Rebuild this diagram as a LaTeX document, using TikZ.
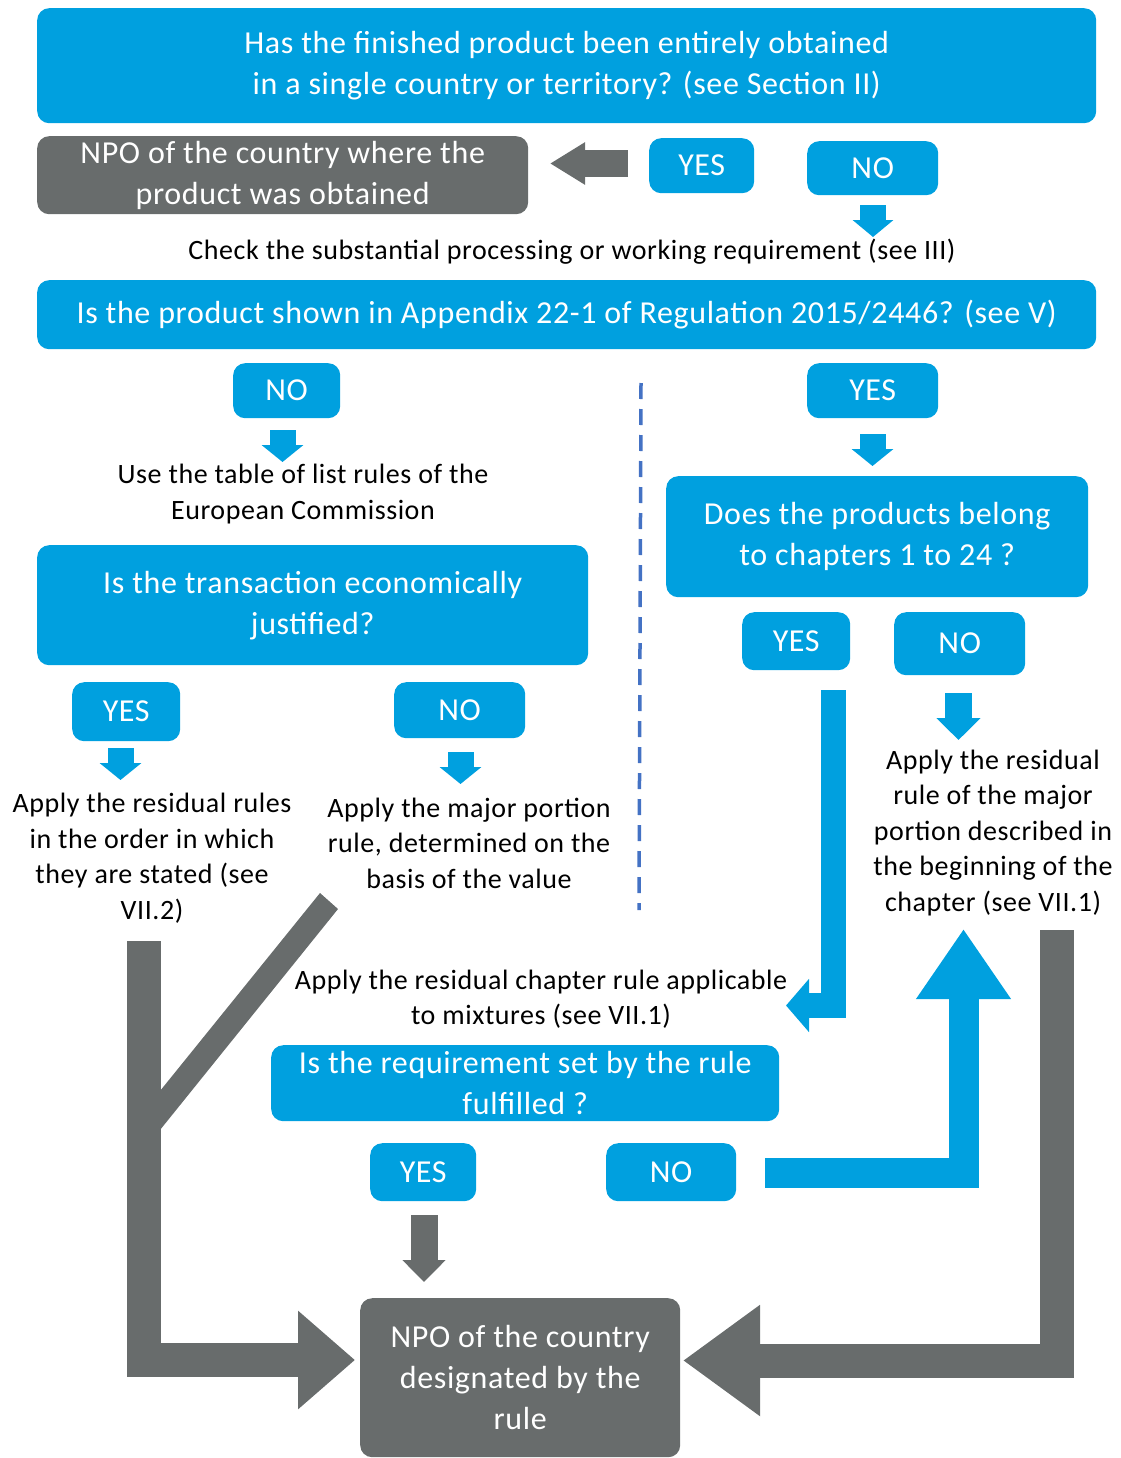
\documentclass[tikz,border=0pt]{standalone}
\usepackage{fontspec}
\setmainfont{Carlito}[LetterSpace=2.0]
\usetikzlibrary{arrows.meta}
\definecolor{cblue}{RGB}{0,160,223}
\definecolor{cgray}{RGB}{104,108,108}
\definecolor{cdash}{RGB}{68,114,196}
\tikzset{
  bx/.style={fill=cblue, rounded corners=12pt, text=white, align=center, inner sep=0pt, anchor=north west, font=\fontsize{32}{41}\selectfont},
  gbx/.style={bx, fill=cgray},
  txt/.style={align=center, inner sep=0pt, text=black, font=\fontsize{28}{35.5}\selectfont},
  barrow/.style={draw=cblue, line join=miter},
  garrow/.style={draw=cgray, line join=miter},
}
\begin{document}
\begin{tikzpicture}[x=1pt,y=-1pt]
\useasboundingbox (0,0) rectangle (1120,1458);
% boxes
\node[bx, minimum width=1059pt, minimum height=115pt] (q1) at (37,8) {Has the finished product been entirely obtained\\in a single country or territory? (see Section II)};
\node[gbx, minimum width=491pt, minimum height=78pt] (npo1) at (37,136) {NPO of the country where the\\product was obtained};
\node[bx, minimum width=105pt, minimum height=55pt] (yes1) at (649,138) {YES};
\node[bx, minimum width=131pt, minimum height=54pt] (no1) at (807,141) {NO};
\node[txt] (chk) at (572,252) {Check the substantial processing or working requirement (see III)};
\node[bx, minimum width=1059pt, minimum height=69pt] (q2) at (37,280) {Is the product shown in Appendix 22-1 of Regulation 2015/2446? (see V)};
\node[bx, minimum width=107pt, minimum height=55pt] (no2) at (233,363) {NO};
\node[bx, minimum width=131pt, minimum height=55pt] (yes2) at (807,363) {YES};
\node[txt] (t1) at (303,494) {Use the table of list rules of the\\European Commission};
\node[bx, minimum width=551pt, minimum height=120pt] (q3) at (37,545) {Is the transaction economically\\justified?};
\node[bx, minimum width=422pt, minimum height=121pt] (q4) at (666,476) {Does the products belong\\to chapters 1 to 24 ?};
\node[bx, minimum width=108pt, minimum height=59pt] (yes3) at (72,682) {YES};
\node[bx, minimum width=131pt, minimum height=56pt] (no3) at (394,682) {NO};
\node[bx, minimum width=108pt, minimum height=58pt] (yes4) at (742,612) {YES};
\node[bx, minimum width=131pt, minimum height=63pt] (no4) at (894,612) {NO};
\node[txt] (t2) at (152,858) {Apply the residual rules\\in the order in which\\they are stated (see\\VII.2)};
\node[txt] (t3) at (469,843) {Apply the major portion\\rule, determined on the\\basis of the value};
\node[txt] (t4) at (993,833) {Apply the residual\\rule of the major\\portion described in\\the beginning of the\\chapter (see VII.1)};
\node[txt] (t5) at (541,999) {Apply the residual chapter rule applicable\\to mixtures (see VII.1)};
\node[bx, minimum width=508pt, minimum height=76pt] (q5) at (271,1045) {Is the requirement set by the rule\\fulfilled ?};
\node[bx, minimum width=106pt, minimum height=58pt] (yes5) at (370,1143) {YES};
\node[bx, minimum width=130pt, minimum height=58pt] (no5) at (606,1143) {NO};
\node[gbx, minimum width=320pt, minimum height=159pt] (npo2) at (360,1298) {NPO of the country\\designated by the\\rule};
% dashed divider
\coordinate (d1) at (641,383);
\coordinate (d2) at (639,910);
\draw[cdash, line width=3.5pt, dash pattern=on 16pt off 10pt] (d1) -- (d2);
% small arrows
\coordinate (a1s) at (628,163.5); \coordinate (a1e) at (550,163.5);
\draw[garrow, line width=27pt, -{Triangle[length=35pt,width=40pt]}] (a1s) -- (a1e);
\coordinate (a2s) at (873,205); \coordinate (a2e) at (873,237);
\draw[barrow, line width=26pt, -{Triangle[length=17pt,width=40pt]}] (a2s) -- (a2e);
\coordinate (a3s) at (282.5,430); \coordinate (a3e) at (282.5,462);
\draw[barrow, line width=26pt, -{Triangle[length=17pt,width=41pt]}] (a3s) -- (a3e);
\coordinate (a4s) at (872.5,434); \coordinate (a4e) at (872.5,466);
\draw[barrow, line width=26pt, -{Triangle[length=17pt,width=41pt]}] (a4s) -- (a4e);
\coordinate (a5s) at (120.5,748); \coordinate (a5e) at (120.5,780);
\draw[barrow, line width=26pt, -{Triangle[length=17pt,width=41pt]}] (a5s) -- (a5e);
\coordinate (a6s) at (460.5,752); \coordinate (a6e) at (460.5,784);
\draw[barrow, line width=26pt, -{Triangle[length=17pt,width=41pt]}] (a6s) -- (a6e);
\coordinate (a7s) at (958.5,693); \coordinate (a7e) at (958.5,740);
\draw[barrow, line width=27pt, -{Triangle[length=22pt,width=43pt]}] (a7s) -- (a7e);
% long blue L arrow (YES -> mixtures)
\coordinate (a8s) at (833.5,690); \coordinate (a8e) at (786,1005.5);
\draw[barrow, line width=25.5pt, -{Triangle[length=23pt,width=52pt]}] (a8s) |- (a8e);
% blue up arrow (NO -> residual major portion)
\coordinate (a9s) at (765,1173); \coordinate (a9e) at (963.5,929);
\draw[barrow, line width=30pt, -{Triangle[length=70pt,width=90pt]}] (a9s) -| (a9e);
% gray right arrow
\coordinate (a10s) at (1056.5,930); \coordinate (a10e) at (683,1360.5);
\draw[garrow, line width=34pt, -{Triangle[length=77pt,width=106pt]}] (a10s) |- (a10e);
% gray left arrow
\coordinate (a11s) at (143.5,941); \coordinate (a11e) at (355,1360);
\draw[garrow, line width=34pt, -{Triangle[length=57pt,width=95pt]}] (a11s) |- (a11e);
% diagonal branch
\fill[cgray] (320,893) -- (338,909) -- (160,1130) -- (160,1091) -- cycle;
% gray down arrow
\coordinate (a12s) at (424,1215); \coordinate (a12e) at (424,1282);
\draw[garrow, line width=27pt, -{Triangle[length=22pt,width=42pt]}] (a12s) -- (a12e);
\end{tikzpicture}
\end{document}
